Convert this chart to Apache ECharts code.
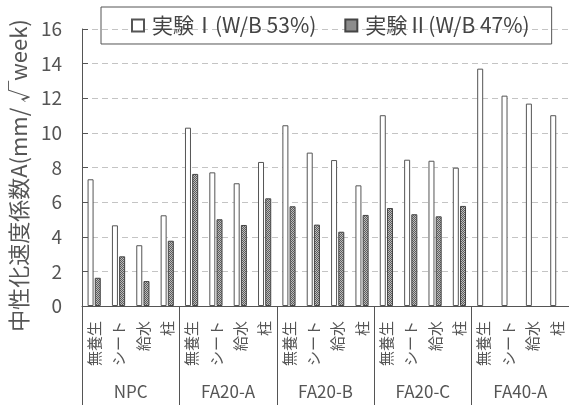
<!DOCTYPE html>
<html lang="ja">
<head>
    <meta charset="utf-8">
    <title>中性化速度係数</title>
    <script src="https://cdn.jsdelivr.net/npm/echarts/dist/echarts.min.js"></script>
    <style type="text/css">
        html, body { margin: 0; height: 100%; background: #fff; }
    </style>
</head>
<body>
    <div id="main" style="width:569px;height:405px;"></div>
    <script type="text/javascript">
        // data
        var groups = ['NPC', 'FA20-A', 'FA20-B', 'FA20-C', 'FA40-A'];
        var curing = ['無養生', 'シート', '給水', '柱'];
        var yTicks = [0, 2, 4, 6, 8, 10, 12, 14, 16];
        var exp1 = [7.32, 4.66, 3.51, 5.24,
                    10.30, 7.72, 7.09, 8.32,
                    10.44, 8.86, 8.43, 6.97,
                    11.02, 8.45, 8.39, 7.99,
                    13.71, 12.15, 11.69, 11.02];
        var exp2 = [1.63, 2.87, 1.44, 3.77,
                    7.63, 5.01, 4.68, 6.22,
                    5.76, 4.70, 4.29, 5.26,
                    5.66, 5.30, 5.18, 5.78,
                    null, null, null, null];
        var seriesNames = ['実験Ⅰ(W/B 53%)', '実験Ⅱ(W/B 47%)'];

        // sub categories: 4 per group
        var subCats = [];
        groups.forEach(function () {
            curing.forEach(function (c) { subCats.push(c); });
        });

        // hatch pattern for exp II
        var pc = document.createElement('canvas');
        pc.width = 2; pc.height = 2;
        var ctx = pc.getContext('2d');
        ctx.fillStyle = '#5c5c5c';
        ctx.fillRect(0, 0, 2, 2);
        ctx.fillStyle = '#bdbdbd';
        ctx.fillRect(1, 0, 1, 1);
        ctx.fillRect(0, 1, 1, 1);

        var font = "'Noto Sans CJK JP', 'Noto Sans', sans-serif";
        var myChart = echarts.init(document.getElementById('main'));

        var option = {
            animation: false,
            textStyle: { fontFamily: font },
            legend: {
                left: 101,
                top: 7,
                icon: 'rect',
                itemWidth: 12,
                itemHeight: 12,
                itemGap: 28,
                padding: [8, 22, 8, 30],
                borderColor: '#555',
                borderWidth: 1,
                textStyle: { fontSize: 21, color: '#444', fontFamily: font, padding: [0, 0, 0, 3] },
                data: seriesNames
            },
            grid: {
                left: 82,
                top: 29,
                width: 490,
                height: 277
            },
            xAxis: [
                {
                    type: 'category',
                    data: subCats,
                    axisLine: { lineStyle: { color: '#555' } },
                    axisTick: { show: false },
                    axisLabel: {
                        interval: 0,
                        rotate: 90,
                        margin: 15,
                        fontSize: 15,
                        color: '#555',
                        fontFamily: font
                    }
                },
                {
                    type: 'category',
                    data: groups,
                    position: 'bottom',
                    axisLine: { show: false },
                    axisTick: { show: true, length: 100, interval: 0, lineStyle: { color: '#555' } },
                    axisLabel: {
                        interval: 0,
                        margin: 77,
                        fontSize: 17,
                        color: '#555',
                        fontFamily: font
                    }
                }
            ],
            yAxis: {
                type: 'value',
                min: yTicks[0],
                max: yTicks[yTicks.length - 1],
                interval: 2,
                name: '中性化速度係数A(mm/ √week)',
                nameLocation: 'middle',
                nameGap: 50,
                nameTextStyle: { fontSize: 22, color: '#555', fontFamily: font, padding: [0, 16, 0, 0] },
                axisLine: { show: true, lineStyle: { color: '#555' } },
                axisTick: { show: true, inside: true, length: 6, lineStyle: { color: '#555' } },
                axisLabel: { fontSize: 19, color: '#555', margin: 20, fontFamily: font },
                splitLine: { lineStyle: { color: '#c4c4c4', type: [6, 4] } }
            },
            series: [
                {
                    name: seriesNames[0],
                    type: 'bar',
                    data: exp1,
                    barWidth: 6,
                    barGap: '20%',
                    itemStyle: { color: '#fff', borderColor: '#555', borderWidth: 1 }
                },
                {
                    name: seriesNames[1],
                    type: 'bar',
                    data: exp2,
                    barWidth: 6,
                    barGap: '20%',
                    itemStyle: { color: { image: pc, repeat: 'repeat' }, borderColor: '#444', borderWidth: 1 }
                }
            ]
        };

        myChart.setOption(option);
    </script>
</body>
</html>
